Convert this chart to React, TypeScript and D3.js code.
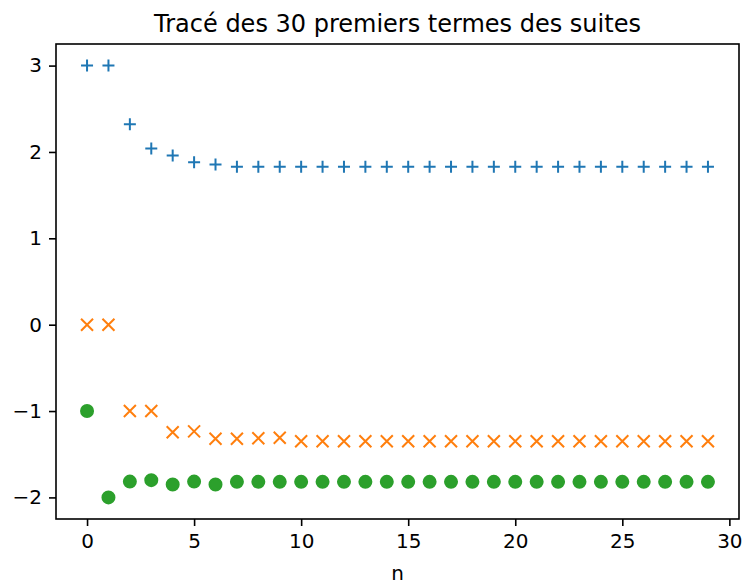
import { useEffect, useRef } from "react";
import * as d3 from "d3";

// values
const nValues = d3.range(30);
const suiteU = [3, 3, 2.32, 2.04, 1.96, 1.88, 1.855, 1.83, 1.83, 1.83, 1.83, 1.83, 1.83, 1.83, 1.83, 1.83, 1.83, 1.83, 1.83, 1.83, 1.83, 1.83, 1.83, 1.83, 1.83, 1.83, 1.83, 1.83, 1.83, 1.83];
const suiteV = [0, 0, -1, -1, -1.245, -1.235, -1.32, -1.32, -1.315, -1.31, -1.35, -1.35, -1.35, -1.35, -1.35, -1.35, -1.35, -1.35, -1.35, -1.35, -1.35, -1.35, -1.35, -1.35, -1.35, -1.35, -1.35, -1.35, -1.35, -1.35];
const suiteW = [-1, -2, -1.817, -1.8, -1.85, -1.817, -1.85, -1.82, -1.82, -1.82, -1.82, -1.82, -1.82, -1.82, -1.82, -1.82, -1.82, -1.82, -1.82, -1.82, -1.82, -1.82, -1.82, -1.82, -1.82, -1.82, -1.82, -1.82, -1.82, -1.82];
const xTicks = [0, 5, 10, 15, 20, 25, 30];
const yTicks = [-2, -1, 0, 1, 2, 3];
const title = "Tracé des 30 premiers termes des suites";
const xLabel = "n";

const W = 745,
  H = 588;
const m = { top: 44, right: 6, bottom: 69, left: 56 };
const FONT = "DejaVu Sans, sans-serif";

export default function App() {
  const ref = useRef<SVGSVGElement>(null);

  useEffect(() => {
    const svg = d3.select(ref.current!);
    svg.selectAll("*").remove();

    // matplotlib-like 5% margins around data
    const xExt = d3.extent(nValues) as [number, number];
    const xPad = (xExt[1] - xExt[0]) * 0.05;
    const all = [...suiteU, ...suiteV, ...suiteW];
    const yExt = d3.extent(all) as [number, number];
    const yPad = (yExt[1] - yExt[0]) * 0.05;

    const x = d3
      .scaleLinear()
      .domain([xExt[0] - xPad, xExt[1] + xPad])
      .range([m.left, W - m.right]);
    const y = d3
      .scaleLinear()
      .domain([yExt[0] - yPad, yExt[1] + yPad])
      .range([H - m.bottom, m.top]);

    svg.append("rect").attr("width", W).attr("height", H).attr("fill", "#fff");

    /* ── MARKERS ─────────────────────────────── */
    const g = svg.append("g");

    // u : blue plus
    g.selectAll("path.plus")
      .data(suiteU)
      .join("path")
      .attr("class", "plus")
      .attr("transform", (d, i) => `translate(${x(nValues[i])},${y(d)})`)
      .attr("d", "M-6,0H6M0,-6V6")
      .attr("stroke", "#1f77b4")
      .attr("stroke-width", 2)
      .attr("fill", "none");

    // v : orange cross
    g.selectAll("path.cross")
      .data(suiteV)
      .join("path")
      .attr("class", "cross")
      .attr("transform", (d, i) => `translate(${x(nValues[i])},${y(d)})`)
      .attr("d", "M-6,-6L6,6M-6,6L6,-6")
      .attr("stroke", "#ff7f0e")
      .attr("stroke-width", 2)
      .attr("fill", "none");

    // w : green dots
    g.selectAll("circle")
      .data(suiteW)
      .join("circle")
      .attr("cx", (d, i) => x(nValues[i]))
      .attr("cy", (d) => y(d))
      .attr("r", 6)
      .attr("fill", "#2ca02c")
      .attr("stroke", "#2ca02c")
      .attr("stroke-width", 2);

    /* ── AXES ─────────────────────────────────── */
    const xAxis = svg
      .append("g")
      .attr("transform", `translate(0,${H - m.bottom})`)
      .call(
        d3
          .axisBottom(x)
          .tickValues(xTicks)
          .tickSize(7)
          .tickPadding(8)
          .tickSizeOuter(0)
      );

    const yAxis = svg
      .append("g")
      .attr("transform", `translate(${m.left},0)`)
      .call(
        d3
          .axisLeft(y)
          .tickValues(yTicks)
          .tickFormat(d3.format("d"))
          .tickSize(7)
          .tickPadding(7)
          .tickSizeOuter(0)
      );

    for (const ax of [xAxis, yAxis]) {
      ax.select(".domain").remove();
      ax.selectAll(".tick line").attr("stroke", "#000").attr("stroke-width", 1.6);
      ax.selectAll(".tick text")
        .attr("fill", "#000")
        .style("font-family", FONT)
        .style("font-size", "20px");
    }

    // frame
    svg
      .append("rect")
      .attr("x", m.left)
      .attr("y", m.top)
      .attr("width", W - m.left - m.right)
      .attr("height", H - m.top - m.bottom)
      .attr("fill", "none")
      .attr("stroke", "#000")
      .attr("stroke-width", 1.6);

    // title + label
    svg
      .append("text")
      .attr("x", (m.left + W - m.right) / 2)
      .attr("y", m.top - 12)
      .attr("text-anchor", "middle")
      .style("font-family", FONT)
      .style("font-size", "24px")
      .text(title);

    svg
      .append("text")
      .attr("x", (m.left + W - m.right) / 2)
      .attr("y", 580)
      .attr("text-anchor", "middle")
      .style("font-family", FONT)
      .style("font-size", "20px")
      .text(xLabel);
  }, []);

  return (
    <svg
      ref={ref}
      width={W}
      height={H}
      style={{ position: "absolute", left: 0, top: 0 }}
    />
  );
}
